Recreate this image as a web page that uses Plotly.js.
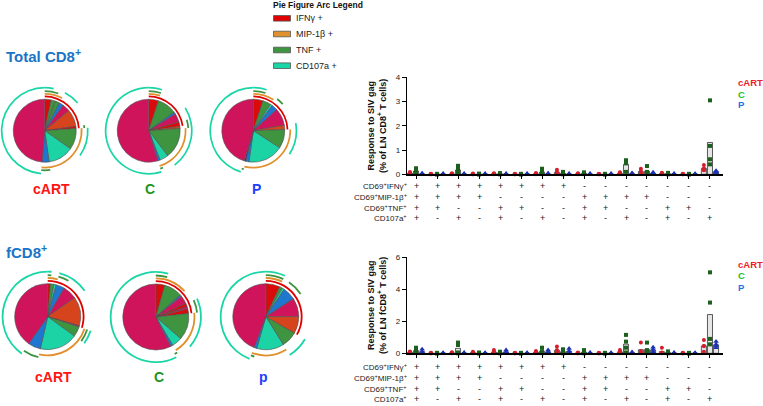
<!DOCTYPE html>
<html><head><meta charset="utf-8">
<script src="https://cdn.plot.ly/plotly-3.0.1.min.js"></script>
<style>html,body{margin:0;padding:0;background:#fff;}#chart{width:763px;height:406px;}</style>
</head><body><div id="chart"></div>
<script>
// ================= DATA =================
const groupIndex = [0,1,2,3,4,5,6,7,8,9,10,11,12,13,14];
const rowLabels = ['CD69<sup>+</sup>IFNγ<sup>+</sup>','CD69<sup>+</sup>MIP-1β<sup>+</sup>','CD69<sup>+</sup>TNF<sup>+</sup>','CD107a<sup>+</sup>'];
const rowIFNg  = ['+','+','+','+','+','+','+','+','-','-','-','-','-','-','-'];
const rowMIP1b = ['+','+','+','+','-','-','-','-','+','+','+','+','-','-','-'];
const rowTNF   = ['+','+','-','-','+','+','-','-','+','+','-','-','+','+','-'];
const rowCD107a= ['+','-','+','-','+','-','+','-','+','-','+','-','+','-','+'];
const seriesNames = ['cART','C','P'];

// Total CD8+ : per combination, per animal (% of LN CD8+ T cells)
const totalCART = [[0.1,0.05,0.03,0.02],[0.02,0.01,0,0],[0.04,0.02,0.01,0],[0.03,0.01,0,0],[0.04,0.02,0.01,0],[0.02,0.01,0,0],[0.05,0.02,0.01,0],[0.19,0.1,0.03,0.01],[0.04,0.02,0.01,0],[0.02,0.01,0,0],[0.08,0.04,0.02,0.01],[0.23,0.14,0.06,0.02],[0.06,0.04,0.02,0],[0.02,0.01,0,0],[0.38,0.25,0.18,0.17]];
const totalC    = [[0.25,0.18,0.1,0.02],[0.02,0.01,0,0],[0.35,0.25,0.1,0.02],[0.03,0.01,0,0],[0.05,0.02,0.01,0],[0.02,0.01,0,0],[0.23,0.1,0.03,0.01],[0.1,0.05,0.02,0],[0.08,0.05,0.02,0.01],[0.02,0.01,0,0],[0.58,0.5,0.45,0.1],[0.34,0.1,0.05,0.02],[0.06,0.04,0.02,0],[0.02,0.01,0,0],[3.05,1.17,0.62,0.41]];
const totalP    = [[0.04,0.02,0.01,0],[0.03,0.01,0,0],[0.03,0.01,0,0],[0.03,0.01,0,0],[0.03,0.01,0,0],[0.03,0.01,0,0],[0.04,0.02,0,0],[0.03,0.01,0,0],[0.03,0.01,0,0],[0.03,0.01,0,0],[0.05,0.03,0.01,0],[0.08,0.05,0.02,0],[0.03,0.01,0,0],[0.02,0.01,0,0],[0.15,0.12,0.08,0.05]];
// fCD8+
const fCART = [[0.12,0.08,0.03,0.01],[0.03,0.01,0,0],[0.06,0.03,0.01,0],[0.1,0.05,0.02,0],[0.2,0.08,0.03,0],[0.03,0.01,0,0],[0.15,0.08,0.03,0.01],[0.42,0.2,0.1,0.03],[0.05,0.02,0.01,0],[0.03,0.01,0,0],[0.2,0.1,0.04,0.01],[0.67,0.15,0.05,0.02],[0.35,0.05,0.02,0],[0.03,0.01,0,0],[0.83,0.46,0.45,0.1]];
const fC    = [[0.35,0.2,0.1,0.02],[0.03,0.01,0,0],[0.67,0.52,0.05,0],[0.05,0.02,0,0],[0.1,0.05,0.02,0],[0.03,0.01,0,0],[0.35,0.12,0.05,0.01],[0.25,0.1,0.03,0],[0.2,0.08,0.02,0],[0.03,0.01,0,0],[1.15,0.73,0.35,0.05],[0.67,0.2,0.05,0.02],[0.12,0.08,0.02,0],[0.03,0.01,0,0],[5.06,3.17,0.9,0.56]];
const fP    = [[0.25,0.12,0.03,0.01],[0.03,0.01,0,0],[0.05,0.02,0,0],[0.04,0.01,0,0],[0.2,0.1,0.03,0],[0.03,0.01,0,0],[0.2,0.1,0.03,0],[0.3,0.15,0.05,0],[0.05,0.02,0,0],[0.03,0.01,0,0],[0.08,0.04,0.01,0],[0.38,0.25,0.12,0.05],[0.05,0.02,0,0],[0.03,0.01,0,0],[0.73,0.56,0.46,0.35]];

// Pie slices (relative size, clockwise from 12 o'clock) and slice category codes
const pieTotalCARTValues = [12,8,8,8,14,32,4,39,47,13,175];
const pieTotalCARTKinds  = ['R','G','G','B','M','O','R','G','T','B','M'];
const pieTotalCValues = [18,36,4,16,8,4,57,16,4,197];
const pieTotalCKinds  = ['R','G','B','M','R','O','G','T','B','M'];
const pieTotalPValues = [18,15,4,11,32,8,35,65,6,3,163];
const pieTotalPKinds  = ['R','G','T','B','M','O','G','T','B','V','M'];
const pieFCARTValues = [5,6,4,15,25,51,2,18,67,22,145];
const pieFCARTKinds  = ['R','G','T','B','M','O','M','G','T','B','M'];
const pieFCValues = [16,32,3,15,6,4,8,47,18,4,207];
const pieFCKinds  = ['R','G','B','M','R','M','R','G','T','B','M'];
const pieFPValues = [25,5,4,23,33,30,28,48,5,159];
const pieFPKinds  = ['R','G','T','B','M','O','G','T','B','M'];

// Arcs: [marker, first slice, last slice]
const arcsTotalCART = [['IFN',0,6],['MIP',0,2],['MIP',7,9],['TNF',0,1],['TNF',6,6],['TNF',9,9],['CD107a',10,10],['CD107a',0,0],['CD107a',3,4],['CD107a',7,7]];
const arcsTotalC = [['IFN',0,4],['MIP',0,0],['MIP',6,8],['TNF',0,0],['TNF',4,5],['TNF',8,8],['CD107a',9,9],['CD107a',0,0],['CD107a',3,6]];
const arcsTotalP = [['IFN',0,5],['MIP',0,1],['MIP',6,8],['TNF',0,0],['TNF',3,3],['TNF',9,9],['CD107a',10,10],['CD107a',0,0],['CD107a',5,6]];
const arcsFCART = [['IFN',0,6],['MIP',0,2],['MIP',7,8],['TNF',0,0],['TNF',3,3],['TNF',7,7],['TNF',9,9],['CD107a',10,10],['CD107a',0,0],['CD107a',3,4],['CD107a',7,7]];
const arcsFC = [['IFN',0,6],['MIP',0,1],['MIP',7,8],['TNF',0,0],['TNF',4,6],['TNF',9,9],['CD107a',10,10],['CD107a',0,0],['CD107a',4,7]];
const arcsFP = [['IFN',0,5],['MIP',0,0],['MIP',7,8],['TNF',0,0],['TNF',3,3],['TNF',8,8],['CD107a',9,9],['CD107a',0,0],['CD107a',6,6]];

const pieLabelsTop = ['cART','C','P'];
const pieLabelsBottom = ['cART','C','p'];
const arcLegendLabels = ['IFNγ +','MIP-1β +','TNF +','CD107a +'];

// ================= STYLE / LAYOUT =================
const W = 763, H = 406;
const FONT = 'Liberation Sans, Arial, Helvetica, sans-serif';
const sliceColors = {R:'#dc0b0b',G:'#3f9440',B:'#1f77d0',M:'#d0145c',O:'#d6441d',T:'#1bd3a5',V:'#5a2a8a'};
const arcColors = {IFN:'#e00000',MIP:'#e0902c',TNF:'#3f9440',CD107a:'#1ad6a6'};
const ringR = {IFN:1.06,MIP:1.145,TNF:1.23,CD107a:1.34};
const RING_T = 0.055, RMAX = 1.42;
const pieCenters = [[44.7,130.7],[148.7,130.7],[253.3,130.7],[47.7,316.7],[155.8,317],[265.8,316.7]];
const pieRadii = [31.5,31.5,31.5,33,33,33];

const px = x => x / W, py = y => 1 - y / H;
const mean = a => a.reduce((s, v) => s + v, 0) / a.length;

const traces = [];
const layout = {
  width: W, height: H, margin: {l:0,r:0,t:0,b:0}, paper_bgcolor:'#fff', plot_bgcolor:'rgba(0,0,0,0)',
  showlegend:false, barmode:'overlay', font:{family:FONT, color:'#222'},
  annotations:[], shapes:[]
};
function note(xPix, yPix, text, font, xanchor) {
  layout.annotations.push({x:px(xPix), y:py(yPix), xref:'paper', yref:'paper', xanchor:xanchor || 'center', yanchor:'middle',
    text:text, showarrow:false, font:Object.assign({family:FONT}, font)});
}

function addPie(idx, values, kinds, arcs) {
  const sub = idx === 0 ? 'polar' : 'polar' + (idx + 1);
  const total = values.reduce((a, b) => a + b, 0);
  const cum = [0];
  values.forEach(v => cum.push(cum[cum.length - 1] + v / total * 360));
  traces.push({
    type:'barpolar', subplot:sub, hoverinfo:'skip',
    r: values.map(() => 1), base: values.map(() => 0),
    theta: values.map((v, i) => (cum[i] + cum[i + 1]) / 2),
    width: values.map(v => v / total * 360),
    marker:{color: kinds.map(k => sliceColors[k]), line:{color:'#505050', width:0.6}}
  });
  ['IFN','MIP','TNF','CD107a'].forEach(m => {
    const spans = arcs.filter(a => a[0] === m);
    if (!spans.length) return;
    traces.push({
      type:'barpolar', subplot:sub, hoverinfo:'skip',
      r: spans.map(() => RING_T), base: spans.map(() => ringR[m]),
      theta: spans.map(s => (cum[s[1]] + cum[s[2] + 1]) / 2),
      width: spans.map(s => cum[s[2] + 1] - cum[s[1]]),
      marker:{color: arcColors[m], line:{width:0}}
    });
  });
  const [cx, cy] = pieCenters[idx];
  const h = pieRadii[idx] * RMAX;
  layout[sub] = {
    domain:{x:[Math.max(0, px(cx - h)), px(cx + h)], y:[py(cy + h), py(cy - h)]},
    bgcolor:'rgba(0,0,0,0)', barmode:'overlay', bargap:0,
    angularaxis:{visible:false, showticklabels:false, rotation:90, direction:'clockwise'},
    radialaxis:{visible:false, showticklabels:false, range:[0, RMAX]}
  };
}
addPie(0, pieTotalCARTValues, pieTotalCARTKinds, arcsTotalCART);
addPie(1, pieTotalCValues, pieTotalCKinds, arcsTotalC);
addPie(2, pieTotalPValues, pieTotalPKinds, arcsTotalP);
addPie(3, pieFCARTValues, pieFCARTKinds, arcsFCART);
addPie(4, pieFCValues, pieFCKinds, arcsFC);
addPie(5, pieFPValues, pieFPKinds, arcsFP);

// pie labels and section titles
const pieLabelColors = ['#ff1414','#1c961c','#2040ff'];
pieLabelsTop.forEach((t, i) => note([51.7,150,256][i], 188.5, t, {size:14, weight:'bold', color:pieLabelColors[i]}));
pieLabelsBottom.forEach((t, i) => note([53.3,159.3,263.3][i], 377, t, {size:14, weight:'bold', color:pieLabelColors[i]}));
note(4, 55.5, 'Total CD8<sup>+</sup>', {size:15, weight:'bold', color:'#1b74c6'}, 'left');
note(4, 251, 'fCD8<sup>+</sup>', {size:15, weight:'bold', color:'#1b74c6'}, 'left');

// arc legend
note(270.5, 4.5, 'Pie Figure Arc Legend', {size:8.5, weight:'bold', color:'#111'}, 'left');
const legYs = [18.3, 34, 50, 65.7];
['IFN','MIP','TNF','CD107a'].forEach((m, i) => {
  layout.shapes.push({type:'rect', xref:'paper', yref:'paper', x0:px(273.5), x1:px(290.5), y0:py(legYs[i] + 2.8), y1:py(legYs[i] - 2.8), fillcolor:arcColors[m], line:{color:'#555', width:0.8}});
  note(294, legYs[i], arcLegendLabels[i], {size:9, color:'#222'}, 'left');
});

// ============ Bar/scatter charts ============
const offsets = [-0.29, 0, 0.29];
const ptColors = ['#d21f2e','#1d601d','#1c32b8'];
const ptSymbols = ['circle','square','triangle-up'];
const ptSizes = [4, 4, 5];
function addChart(xa, ya, seriesList) {
  seriesList.forEach((s, k) => {
    traces.push({type:'bar', xaxis:xa, yaxis:ya, x: groupIndex.map(g => g + offsets[k]), y: s.map(mean), width:0.24,
      marker:{color:'#e6e6e6', line:{color:'#333', width:0.8}}, hoverinfo:'skip'});
  });
  seriesList.forEach((s, k) => {
    const xs = [], ys = [];
    s.forEach((vals, g) => vals.forEach(v => { xs.push(g + offsets[k]); ys.push(v); }));
    traces.push({type:'scatter', mode:'markers', xaxis:xa, yaxis:ya, x:xs, y:ys, cliponaxis:false, name:seriesNames[k],
      marker:{symbol:ptSymbols[k], size:ptSizes[k], color:ptColors[k], line:{width:0}}, hoverinfo:'skip'});
  });
}
addChart('x','y',[totalCART,totalC,totalP]);
addChart('x2','y2',[fCART,fC,fP]);

const xCommon = {range:[-0.43,14.62], showgrid:false, zeroline:false, showline:true, linecolor:'#000', linewidth:1.3,
  ticks:'outside', ticklen:3, tickwidth:1, tickcolor:'#000', tickvals:groupIndex, showticklabels:false, fixedrange:true};
const yCommon = {showgrid:false, zeroline:false, showline:true, linecolor:'#000', linewidth:1.3, ticks:'outside', ticklen:4,
  tickwidth:1, tickcolor:'#000', tickfont:{size:8, color:'#222', family:FONT}, fixedrange:true};
layout.xaxis  = Object.assign({}, xCommon, {domain:[px(407), px(723)], anchor:'y'});
layout.xaxis2 = Object.assign({}, xCommon, {domain:[px(407), px(723)], anchor:'y2'});
layout.yaxis  = Object.assign({}, yCommon, {domain:[py(174.3), py(77.3)], range:[0,4], dtick:1, anchor:'x',
  title:{text:'Response to SIV gag<br>(% of LN CD8<sup>+</sup> T cells)', font:{size:9, weight:'bold', color:'#111', family:FONT}, standoff:7}});
layout.yaxis2 = Object.assign({}, yCommon, {domain:[py(353.3), py(257.3)], range:[0,6], dtick:2, anchor:'x2',
  title:{text:'Response to SIV gag<br>(% of LN fCD8<sup>+</sup> T cells)', font:{size:9, weight:'bold', color:'#111', family:FONT}, standoff:7}});

// combination tables
const tableRows = [rowIFNg, rowMIP1b, rowTNF, rowCD107a];
function addTable(xref, rowYs) {
  tableRows.forEach((row, r) => {
    note(409, rowYs[r], rowLabels[r], {size:8, color:'#222'}, 'right');
    row.forEach((sgn, g) => layout.annotations.push({x:g, xref:xref, y:py(rowYs[r]), yref:'paper', xanchor:'center', yanchor:'middle',
      text:sgn, showarrow:false, font:{size:9, color:'#222', family:FONT}}));
  });
}
addTable('x', [186, 196.7, 207.7, 218.3]);
addTable('x2', [367.3, 378.3, 389, 399.3]);

// series legends
const legColors = ['#ee1c25','#22c222','#1a73e8'];
[[82.7,94.3,105],[264,275.7,287]].forEach(ys => seriesNames.forEach((n, k) => note(736, ys[k], n, {size:9.5, weight:'bold', color:legColors[k]}, 'left')));

Plotly.newPlot('chart', traces, layout, {displayModeBar:false, staticPlot:true});
</script></body></html>
